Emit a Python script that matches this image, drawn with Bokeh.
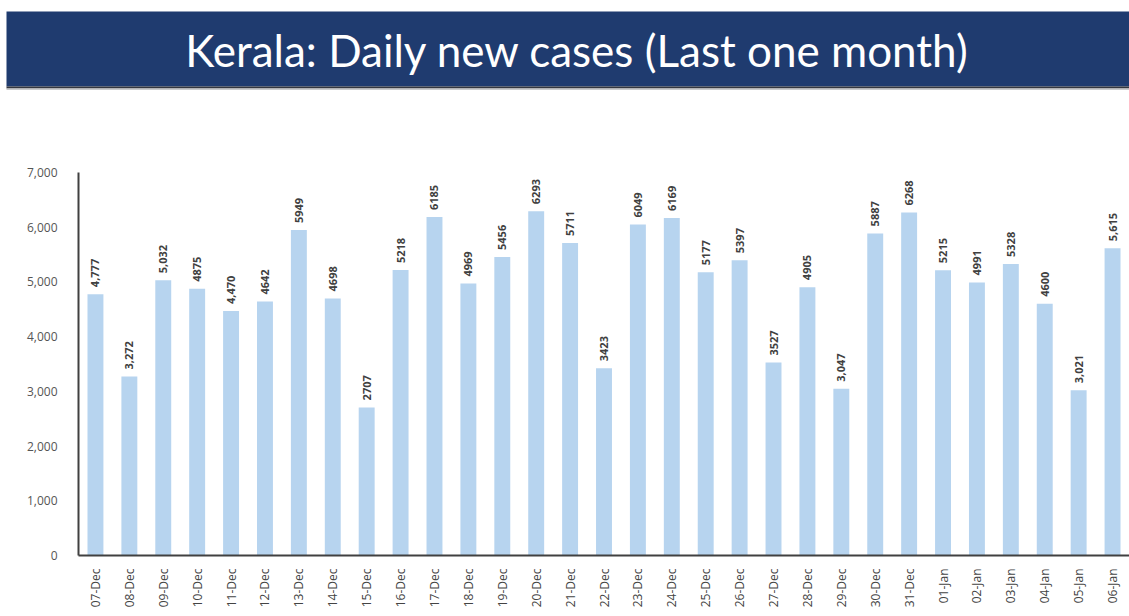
import math
from bokeh.plotting import figure
from bokeh.layouts import column
from bokeh.models import ColumnDataSource, FactorRange, Range1d, NumeralTickFormatter, FixedTicker
from bokeh.core.properties import value
from bokeh.embed import file_html
from bokeh.resources import INLINE

dates = ["07-Dec", "08-Dec", "09-Dec", "10-Dec", "11-Dec", "12-Dec", "13-Dec", "14-Dec",
         "15-Dec", "16-Dec", "17-Dec", "18-Dec", "19-Dec", "20-Dec", "21-Dec", "22-Dec",
         "23-Dec", "24-Dec", "25-Dec", "26-Dec", "27-Dec", "28-Dec", "29-Dec", "30-Dec",
         "31-Dec", "01-Jan", "02-Jan", "03-Jan", "04-Jan", "05-Jan", "06-Jan"]
cases = [4777, 3272, 5032, 4875, 4470, 4642, 5949, 4698, 2707, 5218, 6185, 4969, 5456,
         6293, 5711, 3423, 6049, 6169, 5177, 5397, 3527, 4905, 3047, 5887, 6268, 5215,
         4991, 5328, 4600, 3021, 5615]
labels = ["4,777", "3,272", "5,032", "4875", "4,470", "4642", "5949", "4698", "2707", "5218",
          "6185", "4969", "5456", "6293", "5711", "3423", "6049", "6169", "5177", "5397",
          "3527", "4905", "3,047", "5887", "6268", "5215", "4991", "5328", "4600", "3,021",
          "5,615"]
y_ticks = [0, 1000, 2000, 3000, 4000, 5000, 6000, 7000]
title_text = "Kerala: Daily new cases (Last one month)"

NAVY = "#1f3b6f"
BH = 90  # banner height in px

# Banner: a figure whose data units are pixels
banner = figure(width=1129, height=BH, output_backend="svg", toolbar_location=None,
                x_range=Range1d(0, 1129), y_range=Range1d(0, BH),
                min_border=0, outline_line_color=None,
                background_fill_color="white", border_fill_color="white")
banner.axis.visible = False
banner.grid.visible = False
banner.quad(left=[6], right=[1129], bottom=[BH - 86], top=[BH - 11],
            fill_color=NAVY, line_color=None)
banner.quad(left=[6], right=[1129], bottom=[BH - 88], top=[BH - 86],
            fill_color="#34373f", line_color=None)
banner.quad(left=[6], right=[1129], bottom=[BH - 90], top=[BH - 88],
            fill_color="#c9cacc", line_color=None)
banner.text(x=[577], y=[BH - 49], text=[title_text], text_color="white",
            text_font=value("Lato"), text_font_size="44px",
            text_align="center", text_baseline="middle")

# Chart
src = ColumnDataSource(dict(d=dates, v=cases, lab=labels))
p = figure(width=1129, height=616 - BH, output_backend="svg", toolbar_location=None,
           x_range=FactorRange(factors=dates, range_padding=0),
           y_range=Range1d(0, 7000),
           min_border_left=78, min_border_right=0, min_border_top=172 - BH, min_border_bottom=61,
           outline_line_color=None, background_fill_color="white")
p.grid.visible = False
p.vbar(x="d", top="v", width=0.47, source=src, fill_color="#b7d4ef", line_color=None)
p.text(x="d", y="v", text="lab", source=src, angle=math.pi / 2, y_offset=-7,
       text_align="left", text_baseline="middle", text_font=value("Open Sans"),
       text_font_size="11px", text_font_style="bold", text_color="#404040")

p.yaxis.ticker = FixedTicker(ticks=y_ticks)
p.yaxis.formatter = NumeralTickFormatter(format="0,0")
for ax in (p.xaxis[0], p.yaxis[0]):
    ax.axis_line_color = "#404040"
    ax.axis_line_width = 2
    ax.major_tick_line_color = None
    ax.minor_tick_line_color = None
    ax.major_label_text_font = "Open Sans"
    ax.major_label_text_color = "#555555"
p.yaxis.major_label_text_font_size = "12px"
p.xaxis.major_label_text_font_size = "12px"
p.xaxis.major_label_text_color = "#444444"
p.yaxis.major_label_standoff = 15
p.xaxis.major_label_orientation = math.pi / 2
p.xaxis.major_label_standoff = 7

layout = column(column(banner), column(p), spacing=0)
open("out.html", "w").write(file_html(layout, INLINE))
